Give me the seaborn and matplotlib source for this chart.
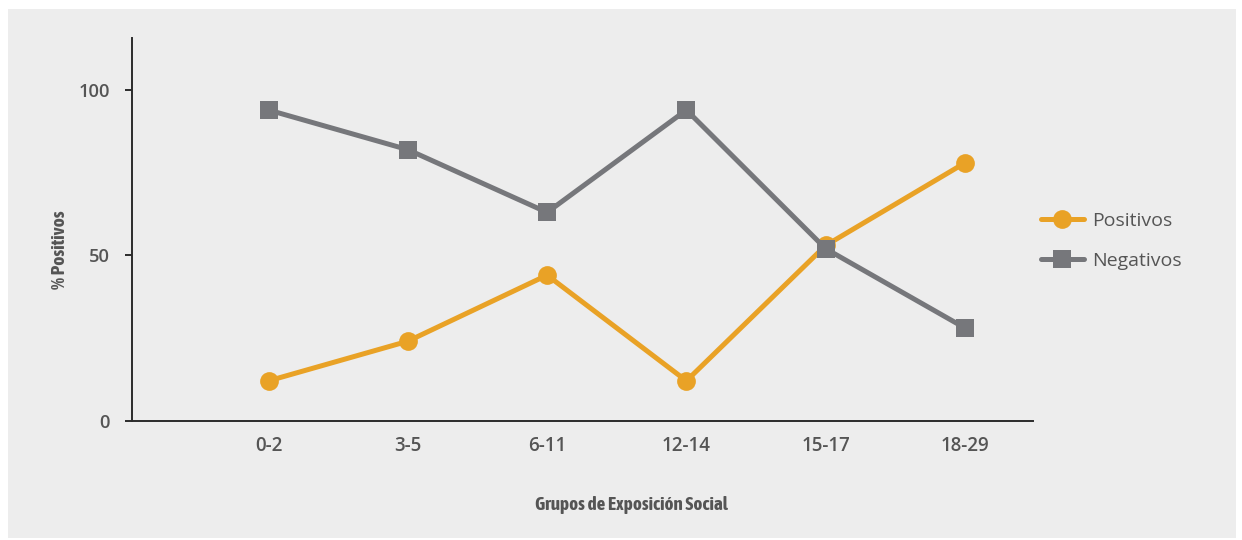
import matplotlib
matplotlib.use("Agg")
import matplotlib.pyplot as plt
from matplotlib.patches import Rectangle
from matplotlib import font_manager
import seaborn as sns
import pandas as pd

# Share of positive / negative results by social-exposure group
grupos = ["0-2", "3-5", "6-11", "12-14", "15-17", "18-29"]
positivos = [12, 24, 44, 12, 53, 78]
negativos = [94, 82, 63, 94, 52, 28]
y_ticks = [0, 50, 100]

df = pd.DataFrame({
    "grupo": grupos * 2,
    "valor": positivos + negativos,
    "serie": ["Positivos"] * len(grupos) + ["Negativos"] * len(grupos),
})

sns.set_theme(style="white")
plt.rcParams["font.family"] = ["Open Sans", "DejaVu Sans"]

naranja = "#E9A226"
gris = "#76777B"
texto = "#555555"
titulo_x = "Grupos de Exposición Social"
titulo_y = "% Positivos"


def _weight(f):
    w = f.weight
    if isinstance(w, str):
        return {"bold": 700, "semibold": 600, "demibold": 600, "heavy": 800,
                "black": 900, "light": 300, "normal": 400, "regular": 400,
                "medium": 500}.get(w.lower(), 400)
    return int(w)


def _is_condensed(f):
    txt = (f.name + " " + f.fname).lower()
    return ("condensed" in txt or "narrow" in txt
            or str(f.stretch) in ("condensed", "semi-condensed", "extra-condensed"))


W, H = 1242, 540
fig = plt.figure(figsize=(W / 100, H / 100), dpi=100, facecolor="white")
renderer = fig.canvas.get_renderer()

# bold condensed face for the axis titles: the one whose width suits a 190 px title
faces = [f for f in font_manager.fontManager.ttflist
         if _is_condensed(f) and f.style == "normal" and _weight(f) >= 600]
cond_fp = None
best = None
for f in faces:
    fp = font_manager.FontProperties(fname=f.fname, size=13.5)
    t = fig.text(0, 0, titulo_x, fontproperties=fp)
    wpx = t.get_window_extent(renderer).width
    t.remove()
    score = abs(wpx - 190) + abs(_weight(f) - 700) / 20
    if best is None or score < best:
        best, cond_fp = score, f.fname
if cond_fp:
    cond_props = dict(fontproperties=font_manager.FontProperties(fname=cond_fp))
else:
    cond_props = dict(family="DejaVu Sans", fontweight="bold", fontstretch="condensed")

fig.patches.append(Rectangle((8 / W, 1 - 538 / H), (1236 - 8) / W, (538 - 9) / H,
                             transform=fig.transFigure, facecolor="#ededed",
                             edgecolor="none", zorder=-10))

ax = fig.add_axes([132 / W, 1 - 420.5 / H, (1032.7 - 132) / W, (420.5 - 38) / H])
ax.set_facecolor("none")

sns.lineplot(data=df, x="grupo", y="valor", hue="serie", style="serie",
             hue_order=["Positivos", "Negativos"],
             palette={"Positivos": naranja, "Negativos": gris},
             markers={"Positivos": "o", "Negativos": "s"}, dashes=False,
             linewidth=3.6, markersize=13.5, markeredgewidth=0,
             ax=ax, legend=True, sort=False)

ax.set_xlim(-0.98, 5.486)
ax.set_ylim(0, 115.8)
ax.set_yticks(y_ticks)
ax.set_yticklabels([str(t) for t in y_ticks])

for s in ("top", "right"):
    ax.spines[s].set_visible(False)
for s in ("left", "bottom"):
    ax.spines[s].set_color("#2b2b2b")
    ax.spines[s].set_linewidth(1.4)

ax.tick_params(axis="y", length=5, width=1.4, color="#2b2b2b", pad=11,
               labelsize=13.2, labelcolor=texto, left=True, direction="out")
ax.tick_params(axis="x", length=0, pad=11, labelsize=13.5, labelcolor=texto)
for lab in ax.get_xticklabels() + ax.get_yticklabels():
    lab.set_fontweight("semibold")

ax.set_xlabel(titulo_x, color=texto, **cond_props)
ax.xaxis.label.set_fontsize(13.8)
ax.xaxis.set_label_coords((631 - 132) / (1032.7 - 132), -(505 - 420.5) / (420.5 - 38))
ax.xaxis.label.set_va("center")
ax.set_ylabel(titulo_y, color=texto, **cond_props)
ax.yaxis.label.set_fontsize(14)
ax.yaxis.set_label_coords((60 - 132) / (1032.7 - 132), (420.5 - 250) / (420.5 - 38))
ax.yaxis.label.set_va("center")

handles, labels = ax.get_legend_handles_labels()
leg = ax.legend(handles, labels, loc="center left",
                bbox_to_anchor=(1041 / W, 1 - 241 / H),
                bbox_transform=fig.transFigure, frameon=False,
                fontsize=14, handlelength=2.2, handletextpad=0.45,
                labelspacing=1.15, borderpad=0, borderaxespad=0)
for t in leg.get_texts():
    t.set_color(texto)

fig.savefig("out.png", dpi=100, facecolor="white")
